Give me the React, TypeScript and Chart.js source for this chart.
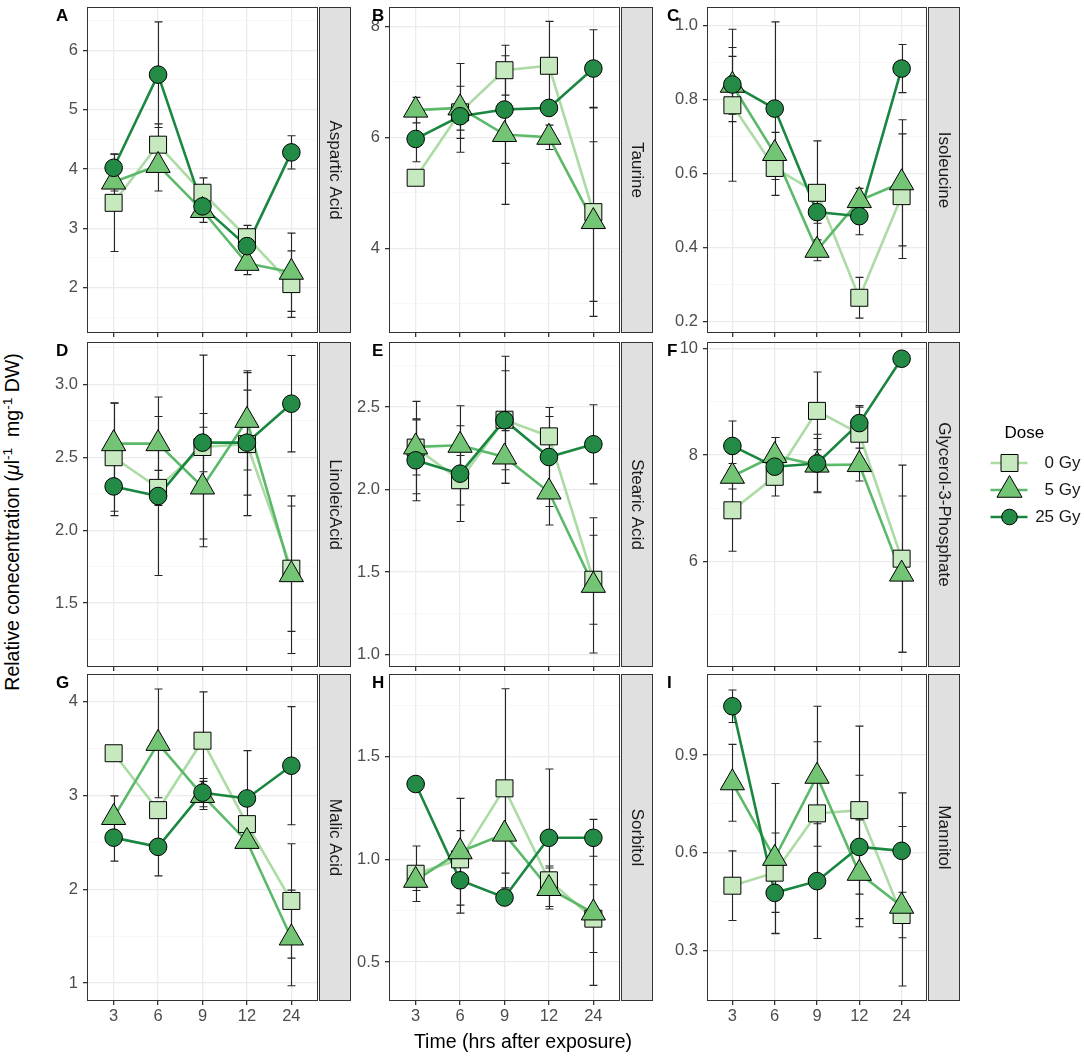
import { useEffect, useRef } from "react";
import { Chart, registerables } from "chart.js";
import type { Plugin } from "chart.js";
import { drawPoint } from "chart.js/helpers";

Chart.register(...registerables);

const FONT = "'Liberation Sans', Arial, Helvetica, sans-serif";

const times = ["3", "6", "9", "12", "24"];
const doses = [" 0 Gy", " 5 Gy", "25 Gy"];
const panelLetters = ["A", "B", "C", "D", "E", "F", "G", "H", "I"];
const metabolites = [
  "Aspartic Acid",
  "Taurine",
  "Isoleucine",
  "LinoleicAcid",
  "Stearic Acid",
  "Glycerol-3-Phosphate",
  "Malic Acid",
  "Sorbitol",
  "Mannitol",
];

// each metabolite: [0 Gy, 5 Gy, 25 Gy] means, then the +/- error
const asparticAcid = [
  [3.43, 4.41, 3.6, 2.85, 2.06],
  [3.78, 4.06, 3.3, 2.41, 2.26],
  [4.02, 5.59, 3.37, 2.7, 4.28],
];
const asparticAcidErr = [
  [0.82, 0.35, 0.25, 0.2, 0.56],
  [0.15, 0.43, 0.2, 0.19, 0.66],
  [0.23, 0.89, 0.15, 0.12, 0.28],
];
const taurine = [
  [5.27, 6.45, 7.21, 7.29, 4.65],
  [6.49, 6.53, 6.05, 6.0, 4.48],
  [5.97, 6.38, 6.5, 6.53, 7.24],
];
const taurineErr = [
  [0.1, 0.47, 0.45, 0.8, 1.88],
  [0.23, 0.8, 1.26, 0.22, 1.44],
  [0.41, 0.25, 0.97, 0.1, 0.7],
];
const isoleucine = [
  [0.784, 0.615, 0.548, 0.265, 0.539],
  [0.838, 0.654, 0.393, 0.527, 0.575],
  [0.84, 0.775, 0.496, 0.485, 0.883],
];
const isoleucineErr = [
  [0.205, 0.031, 0.14, 0.055, 0.168],
  [0.078, 0.057, 0.028, 0.033, 0.17],
  [0.1, 0.234, 0.03, 0.05, 0.065],
];
const linoleicAcid = [
  [2.5, 2.29, 2.57, 2.59, 1.736],
  [2.593, 2.593, 2.296, 2.753, 1.695],
  [2.3, 2.234, 2.6, 2.6, 2.867],
];
const linoleicAcidErr = [
  [0.37, 0.12, 0.63, 0.49, 0.43],
  [0.28, 0.32, 0.41, 0.34, 0.54],
  [0.2, 0.545, 0.2, 0.36, 0.33],
];
const stearicAcid = [
  [2.254, 2.056, 2.423, 2.322, 1.453],
  [2.258, 2.268, 2.197, 1.985, 1.419],
  [2.177, 2.096, 2.42, 2.197, 2.274],
];
const stearicAcidErr = [
  [0.28, 0.15, 0.385, 0.12, 0.27],
  [0.17, 0.24, 0.16, 0.2, 0.41],
  [0.245, 0.29, 0.3, 0.3, 0.24],
];
const glycerol3P = [
  [6.96, 7.59, 8.83, 8.4, 6.05],
  [7.6, 7.99, 7.81, 7.82, 5.76],
  [8.17, 7.78, 7.84, 8.6, 9.81],
];
const glycerol3PErr = [
  [0.77, 0.15, 0.73, 0.5, 1.76],
  [0.24, 0.34, 0.5, 0.31, 1.47],
  [0.47, 0.55, 0.55, 0.33, 0.04],
];
const malicAcid = [
  [3.45, 2.843, 3.584, 2.694, 1.875],
  [2.765, 3.555, 3.0, 2.51, 1.48],
  [2.55, 2.452, 3.03, 2.968, 3.317],
];
const malicAcidErr = [
  [0.05, 0.05, 0.52, 0.05, 0.61],
  [0.23, 0.58, 0.15, 0.05, 0.51],
  [0.25, 0.31, 0.15, 0.51, 0.63],
];
const sorbitol = [
  [0.93, 1.0, 1.346, 0.898, 0.711],
  [0.898, 1.037, 1.123, 0.858, 0.739],
  [1.367, 0.898, 0.814, 1.105, 1.105],
];
const sorbitolErr = [
  [0.135, 0.14, 0.485, 0.07, 0.165],
  [0.05, 0.26, 0.19, 0.1, 0.353],
  [0.02, 0.16, 0.02, 0.335, 0.09],
];
const mannitol = [
  [0.499, 0.539, 0.721, 0.731, 0.409],
  [0.815, 0.583, 0.835, 0.537, 0.436],
  [1.05, 0.477, 0.513, 0.618, 0.606],
];
const mannitolErr = [
  [0.107, 0.122, 0.22, 0.258, 0.07],
  [0.118, 0.23, 0.215, 0.164, 0.245],
  [0.05, 0.125, 0.176, 0.22, 0.178],
];

const panelMeans = [asparticAcid, taurine, isoleucine, linoleicAcid, stearicAcid, glycerol3P, malicAcid, sorbitol, mannitol];
const panelErrs = [asparticAcidErr, taurineErr, isoleucineErr, linoleicAcidErr, stearicAcidErr, glycerol3PErr, malicAcidErr, sorbitolErr, mannitolErr];

// y axis limits and breaks per panel
const yLimits = [
  [1.236, 6.73],
  [2.47, 8.35],
  [0.17, 1.049],
  [1.062, 3.29],
  [0.924, 2.894],
  [4.013, 10.125],
  [0.808, 4.295],
  [0.31, 1.903],
  [0.145, 1.149],
];
const yMajor = [
  [2, 3, 4, 5, 6],
  [4, 6, 8],
  [0.2, 0.4, 0.6, 0.8, 1.0],
  [1.5, 2.0, 2.5, 3.0],
  [1.0, 1.5, 2.0, 2.5],
  [6, 8, 10],
  [1, 2, 3, 4],
  [0.5, 1.0, 1.5],
  [0.3, 0.6, 0.9],
];
const yMinor = [
  [1.5, 2.5, 3.5, 4.5, 5.5, 6.5],
  [3, 5, 7],
  [0.3, 0.5, 0.7, 0.9],
  [1.25, 1.75, 2.25, 2.75, 3.25],
  [1.25, 1.75, 2.25, 2.75],
  [5, 7, 9],
  [1.5, 2.5, 3.5],
  [0.75, 1.25, 1.75],
  [0.45, 0.75, 1.05],
];
const yDecimals = [0, 0, 1, 1, 1, 0, 0, 1, 1];

// layout (page pixels)
const COL_LEFT = [87, 389, 707];
const COL_W = [231, 231, 220];
const ROW_TOP = [7, 342, 674];
const ROW_H = [326, 325, 327];
const LETTER_X = [56, 372, 667];
const Y_AXIS_W = 50;
const TOP_PAD = 10;
const STRIP_GAP = 1;
const STRIP_W = 32;

const fillColors = ["#C7E9C0", "#74C476", "#238B45"];
const lineColors = ["#ADDBA5", "#5CB96A", "#1A8740"];
const pointStyles = ["rect", "triangle", "circle"] as const;
const pointRadii = [12, 14, 8.8];

const near = (list: number[], v: number) => list.some((m) => Math.abs(m - v) < 1e-9);

function Panel({ idx }: { idx: number }) {
  const canvasRef = useRef<HTMLCanvasElement | null>(null);
  const row = Math.floor(idx / 3);
  const col = idx % 3;
  const plotW = COL_W[col];
  const plotH = ROW_H[row];
  const left = COL_LEFT[col] - Y_AXIS_W;
  const top = ROW_TOP[row] - TOP_PAD;
  const withLegend = idx === 5;
  const rightPad = withLegend ? 1084 - (COL_LEFT[col] + plotW) : STRIP_GAP + STRIP_W + 1;
  const xAxisH = row === 2 ? 34 : 5;
  const width = Y_AXIS_W + plotW + rightPad;
  const height = TOP_PAD + plotH + xAxisH;

  useEffect(() => {
    if (!canvasRef.current) return;
    const means = panelMeans[idx];
    const errs = panelErrs[idx];
    const majors = yMajor[idx];
    const minors = yMinor[idx];

    const decor: Plugin<"line"> = {
      id: "panelDecor",
      beforeDatasetDraw(chart, args) {
        const ds = chart.data.datasets[args.index] as { errorBarsBefore?: boolean };
        if (!ds.errorBarsBefore) return;
        const { ctx } = chart;
        const xs = chart.scales.x;
        const ys = chart.scales.y;
        ctx.save();
        ctx.strokeStyle = "#262626";
        ctx.lineWidth = 1.1;
        means.forEach((series, d) =>
          series.forEach((m, i) => {
            const e = errs[d][i];
            const px = Math.round(xs.getPixelForValue(i + 1)) + 0.5;
            const yt = ys.getPixelForValue(m + e);
            const yb = ys.getPixelForValue(m - e);
            ctx.beginPath();
            ctx.moveTo(px, yt);
            ctx.lineTo(px, yb);
            ctx.moveTo(px - 4, yt);
            ctx.lineTo(px + 4, yt);
            ctx.moveTo(px - 4, yb);
            ctx.lineTo(px + 4, yb);
            ctx.stroke();
          })
        );
        ctx.restore();
      },
      afterDraw(chart) {
        const { ctx } = chart;
        const a = chart.chartArea;
        ctx.save();
        // panel border
        ctx.strokeStyle = "#333333";
        ctx.lineWidth = 1;
        ctx.strokeRect(a.left + 0.5, a.top + 0.5, a.right - a.left - 1, a.bottom - a.top - 1);
        // strip
        const sx = a.right + STRIP_GAP;
        ctx.fillStyle = "#E0E0E0";
        ctx.fillRect(sx, a.top, STRIP_W, a.bottom - a.top);
        ctx.strokeRect(sx + 0.5, a.top + 0.5, STRIP_W - 1, a.bottom - a.top - 1);
        ctx.save();
        ctx.translate(sx + STRIP_W / 2, (a.top + a.bottom) / 2);
        ctx.rotate(Math.PI / 2);
        ctx.fillStyle = "#1A1A1A";
        ctx.font = `17px ${FONT}`;
        ctx.textAlign = "center";
        ctx.textBaseline = "middle";
        ctx.fillText(metabolites[idx], 0, 0);
        ctx.restore();
        // panel letter
        ctx.fillStyle = "#000";
        ctx.font = `bold 17px ${FONT}`;
        ctx.textAlign = "left";
        ctx.textBaseline = "top";
        ctx.fillText(panelLetters[idx], LETTER_X[col] - left, a.top + 1);
        // legend beside panel F
        if (withLegend) {
          ctx.font = `17px ${FONT}`;
          ctx.textBaseline = "middle";
          ctx.fillStyle = "#000";
          ctx.fillText("Dose", 1004.5 - left, 433 - top);
          const keyY = [463, 490, 517];
          const legendRadii = [12, 14.5, 7.8];
          doses.forEach((label, d) => {
            const cy = keyY[d] - top;
            ctx.strokeStyle = lineColors[d];
            ctx.lineWidth = 2.6;
            ctx.beginPath();
            ctx.moveTo(990.5 - left, cy);
            ctx.lineTo(1027.5 - left, cy);
            ctx.stroke();
            ctx.fillStyle = fillColors[d];
            ctx.strokeStyle = "#000";
            ctx.lineWidth = 1;
            drawPoint(
              ctx,
              { pointStyle: pointStyles[d], rotation: 0, radius: legendRadii[d], borderWidth: 1 },
              1009.5 - left,
              cy
            );
            ctx.fillStyle = "#1A1A1A";
            ctx.textAlign = "right";
            ctx.fillText(label, 1080.5 - left, cy);
          });
        }
        ctx.restore();
      },
    };

    const lineSets = means.map((series, d) => ({
      data: series.map((v, i) => ({ x: i + 1, y: v })),
      borderColor: lineColors[d],
      borderWidth: 2.6,
      pointRadius: 0,
      showLine: true,
      order: 6 - d,
      clip: false as const,
    }));
    const pointSets = means.map((series, d) => ({
      data: series.map((v, i) => ({ x: i + 1, y: v })),
      showLine: false,
      pointStyle: pointStyles[d],
      pointRadius: pointRadii[d],
      pointBackgroundColor: fillColors[d],
      pointBorderColor: "#000000",
      pointBorderWidth: 1,
      order: 3 - d,
      clip: false as const,
      errorBarsBefore: d === 0,
    }));

    const chart = new Chart(canvasRef.current, {
      type: "line",
      data: { datasets: [...lineSets, ...pointSets] as any },
      plugins: [decor],
      options: {
        responsive: false,
        animation: false,
        events: [],
        layout: { autoPadding: false, padding: { left: 0, top: TOP_PAD, bottom: 0, right: rightPad } },
        plugins: { legend: { display: false }, tooltip: { enabled: false } },
        scales: {
          x: {
            type: "linear",
            min: 0.4,
            max: 5.6,
            afterBuildTicks: (s) => {
              s.ticks = times.map((_, i) => ({ value: i + 1 }));
            },
            afterFit: (s) => {
              s.height = xAxisH;
              s.paddingLeft = 0;
              s.paddingRight = 0;
            },
            ticks: {
              display: row === 2,
              autoSkip: false,
              maxRotation: 0,
              padding: 2,
              color: "#4D4D4D",
              font: { family: FONT, size: 16.5 },
              callback: (v) => times[Math.round(Number(v)) - 1],
            },
            grid: { color: "#EBEBEB", lineWidth: 1.3, tickLength: 4, tickColor: "#333333" },
            border: { display: false },
          },
          y: {
            type: "linear",
            min: yLimits[idx][0],
            max: yLimits[idx][1],
            afterBuildTicks: (s) => {
              s.ticks = [...minors, ...majors].map((v) => ({ value: v }));
            },
            afterFit: (s) => {
              s.width = Y_AXIS_W;
              s.paddingTop = 0;
              s.paddingBottom = 0;
            },
            ticks: {
              autoSkip: false,
              padding: 5,
              color: "#4D4D4D",
              font: { family: FONT, size: 16.5 },
              callback: (v) => (near(majors, Number(v)) ? Number(v).toFixed(yDecimals[idx]) : ""),
            },
            grid: {
              color: (c) => (near(majors, c.tick.value) ? "#EBEBEB" : "#F3F3F3"),
              lineWidth: (c) => (near(majors, c.tick.value) ? 1.3 : 0.7),
              tickLength: 4,
              tickColor: (c) => (near(majors, c.tick.value) ? "#333333" : "rgba(0,0,0,0)"),
            },
            border: { display: false },
          },
        },
      },
    });

    return () => {
      chart.destroy();
    };
  }, [idx]);

  return (
    <canvas
      ref={canvasRef}
      width={width}
      height={height}
      style={{ position: "absolute", left, top, width, height }}
    />
  );
}

export default function App() {
  return (
    <div
      style={{
        position: "absolute",
        left: 0,
        top: 0,
        width: 1084,
        height: 1056,
        background: "#ffffff",
        fontFamily: FONT,
        color: "#000",
      }}
    >
      {metabolites.map((_, i) => (
        <Panel key={i} idx={i} />
      ))}
      <div
        style={{
          position: "absolute",
          left: 13,
          top: 522,
          transform: "translate(-50%, -50%) rotate(-90deg)",
          whiteSpace: "nowrap",
          fontSize: 19.5,
          lineHeight: 1,
        }}
      >
        Relative conecentration (<i>μ</i>l
        <sup style={{ fontSize: "0.7em", lineHeight: 0 }}>-1</sup>
        &nbsp;&nbsp;mg<sup style={{ fontSize: "0.7em", lineHeight: 0 }}>-1</sup> DW)
      </div>
      <div
        style={{
          position: "absolute",
          left: 523,
          top: 1042,
          transform: "translate(-50%, -50%)",
          whiteSpace: "nowrap",
          fontSize: 19.5,
          lineHeight: 1,
        }}
      >
        Time (hrs after exposure)
      </div>
    </div>
  );
}
